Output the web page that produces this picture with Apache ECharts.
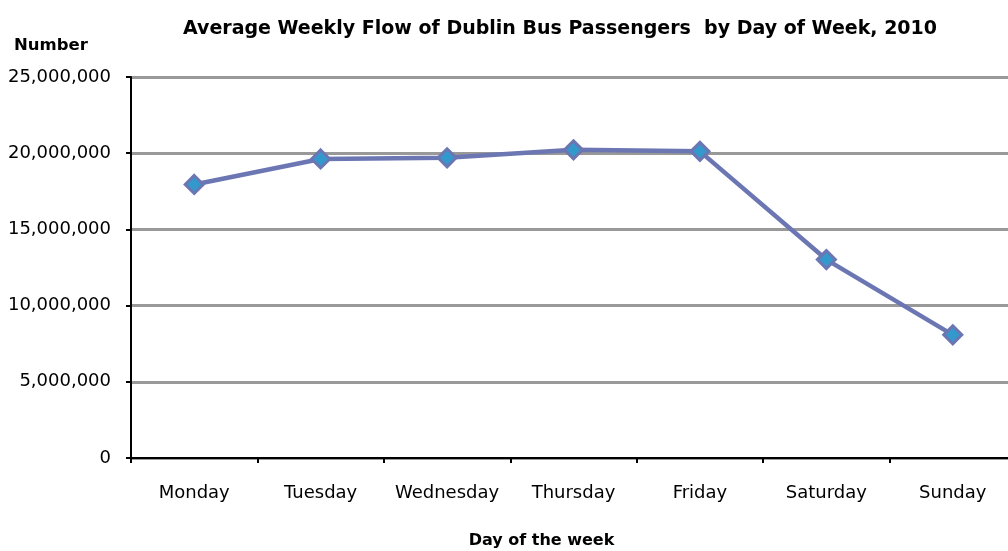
<!DOCTYPE html>
<html>
<head>
<meta charset="utf-8">
<script src="https://cdn.jsdelivr.net/npm/echarts@6/dist/echarts.min.js"></script>
<style>
html,body{margin:0;padding:0;background:#fff;}
#chart{width:1008px;height:551px;}
</style>
</head>
<body>
<div id="chart"></div>
<script>
const days = ['Monday', 'Tuesday', 'Wednesday', 'Thursday', 'Friday', 'Saturday', 'Sunday'];
const passengers = [17950000, 19620000, 19700000, 20220000, 20120000, 13020000, 8080000];
const yTicks = [0, 5000000, 10000000, 15000000, 20000000, 25000000];

const chart = echarts.init(document.getElementById('chart'));
const fmt = v => v === 0 ? '0' : v.toLocaleString('en-US');
const FONT = '"DejaVu Sans", "Liberation Sans", Arial';
chart.setOption({
  animation: false,
  backgroundColor: '#ffffff',
  title: {
    text: 'Average Weekly Flow of Dublin Bus Passengers  by Day of Week, 2010',
    left: 555, top: 15, textAlign: 'center',
    textStyle: { fontFamily: FONT, fontSize: 19, fontWeight: 'bold', color: '#000' }
  },
  graphic: [{
    type: 'text', left: 14, top: 37,
    style: { text: 'Number', font: 'bold 16.5px ' + FONT, fill: '#000' }
  }],
  grid: { left: 131, top: 77, width: 885, height: 381, outerBoundsMode: 'none' },
  xAxis: {
    type: 'category',
    data: days,
    boundaryGap: true,
    name: 'Day of the week',
    nameLocation: 'middle',
    nameGap: 75,
    nameTextStyle: { fontFamily: FONT, fontSize: 16, fontWeight: 'bold', color: '#000', padding: [0, 64, 0, 0] },
    axisLine: { lineStyle: { color: '#000', width: 2 } },
    axisTick: { show: true, length: 5, lineStyle: { color: '#000', width: 2 } },
    axisLabel: { interval: 0, margin: 26, fontFamily: FONT, fontSize: 18, color: '#000' },
    splitLine: { show: false }
  },
  yAxis: {
    type: 'value',
    min: 0, max: 25000000, interval: 5000000,
    axisLine: { show: true, lineStyle: { color: '#000', width: 2 } },
    axisTick: { show: true, length: 5, lineStyle: { color: '#000', width: 2 } },
    axisLabel: { margin: 20, fontFamily: FONT, fontSize: 18, color: '#000',
      formatter: v => yTicks.includes(v) ? fmt(v) : '' },
    splitLine: { show: true, lineStyle: { color: '#999999', width: 3 } }
  },
  series: [{
    type: 'line',
    data: passengers,
    symbol: 'diamond',
    symbolSize: 18,
    lineStyle: { color: '#6B76B2', width: 4.5 },
    itemStyle: { color: '#3399CC', borderColor: '#6B76B2', borderWidth: 3 },
    z: 5
  }]
});
</script>
</body>
</html>
